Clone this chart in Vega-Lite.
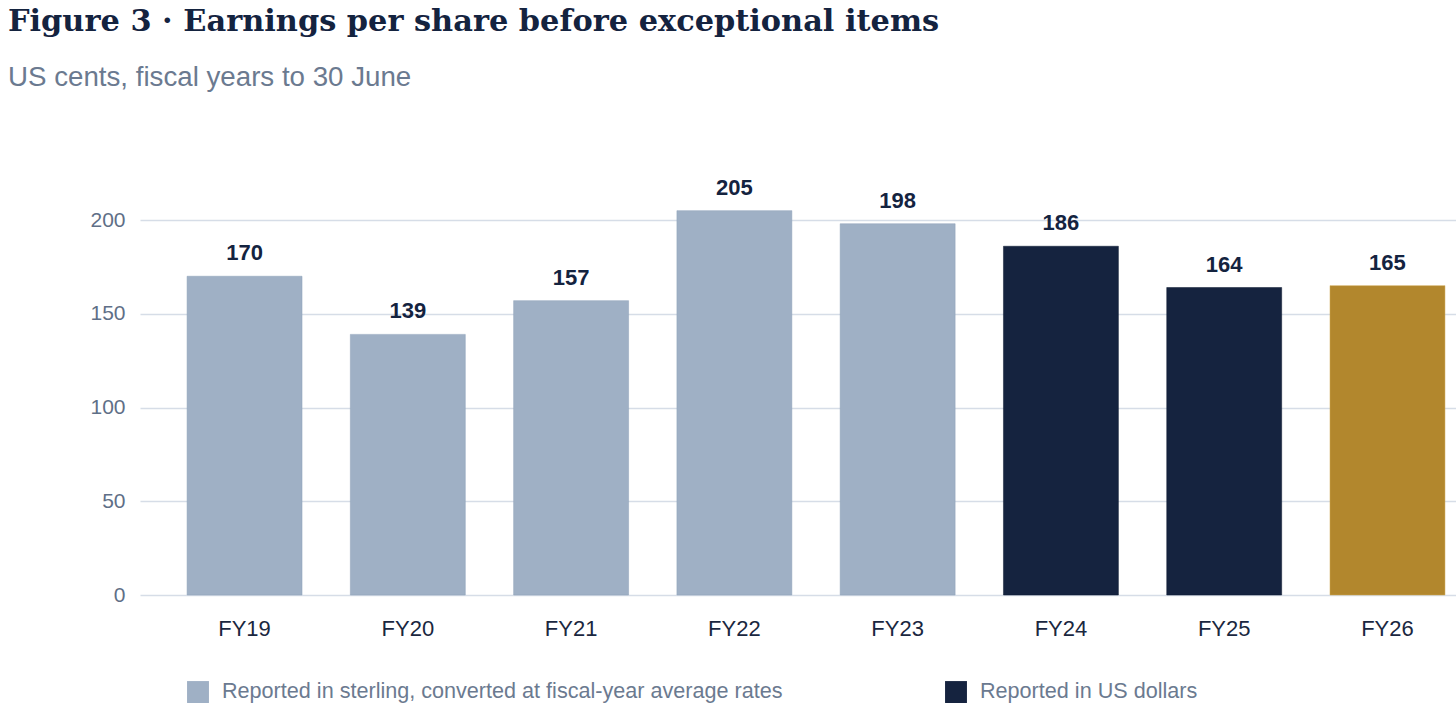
{
  "$schema": "https://vega.github.io/schema/vega-lite/v6.json",
  "width": 1316,
  "height": 375,
  "autosize": {"type": "none"},
  "padding": {"left": 140, "top": 220, "right": 0, "bottom": 114},
  "background": "white",
  "title": {
    "text": "Figure 3 · Earnings per share before exceptional items",
    "subtitle": "US cents, fiscal years to 30 June",
    "anchor": "start",
    "frame": "group",
    "dx": -132,
    "offset": 85,
    "font": "DejaVu Serif",
    "fontSize": 30.4,
    "fontWeight": "bold",
    "color": "#14233f",
    "subtitleFont": "Liberation Sans",
    "subtitleFontSize": 27.7,
    "subtitleColor": "#6b7a90",
    "subtitlePadding": 27
  },
  "data": {
    "values": [
      {"year": "FY19", "eps": 170, "basis": "Reported in sterling, converted at fiscal-year average rates"},
      {"year": "FY20", "eps": 139, "basis": "Reported in sterling, converted at fiscal-year average rates"},
      {"year": "FY21", "eps": 157, "basis": "Reported in sterling, converted at fiscal-year average rates"},
      {"year": "FY22", "eps": 205, "basis": "Reported in sterling, converted at fiscal-year average rates"},
      {"year": "FY23", "eps": 198, "basis": "Reported in sterling, converted at fiscal-year average rates"},
      {"year": "FY24", "eps": 186, "basis": "Reported in US dollars"},
      {"year": "FY25", "eps": 164, "basis": "Reported in US dollars"},
      {"year": "FY26", "eps": 165, "basis": "Latest"}
    ]
  },
  "encoding": {
    "x": {
      "field": "year",
      "type": "nominal",
      "sort": null,
      "scale": {"paddingInner": 0.296, "paddingOuter": 0.178, "align": 0.81},
      "axis": {
        "title": null,
        "labelAngle": 0,
        "labelFont": "Liberation Sans",
        "labelFontSize": 22,
        "labelColor": "#1a2740",
        "labelPadding": 23,
        "ticks": false,
        "domain": false
      }
    },
    "y": {
      "field": "eps",
      "type": "quantitative",
      "scale": {"domain": [0, 200], "nice": false},
      "axis": {
        "title": null,
        "values": [0, 50, 100, 150, 200],
        "labelFont": "Liberation Sans",
        "labelFontSize": 21,
        "labelColor": "#5f6f87",
        "labelPadding": 15,
        "ticks": false,
        "domain": false,
        "gridColor": "#d6dde7",
        "gridWidth": 1.5
      }
    }
  },
  "layer": [
    {
      "mark": {"type": "bar", "strokeWidth": 1, "strokeOpacity": 0.5},
      "encoding": {
        "color": {
          "field": "basis",
          "type": "nominal",
          "scale": {
            "domain": ["Reported in sterling, converted at fiscal-year average rates", "Reported in US dollars", "Latest"],
            "range": ["#9fb0c5", "#15233f", "#b2872d"]
          },
          "legend": {
            "title": null,
            "values": ["Reported in sterling, converted at fiscal-year average rates", "Reported in US dollars"],
            "orient": "none",
            "legendX": 47,
            "legendY": 461,
            "direction": "horizontal",
            "columnPadding": 162,
            "symbolType": "square",
            "symbolSize": 480,
            "symbolStrokeWidth": 0,
            "labelFont": "Liberation Sans",
            "labelFontSize": 21.6,
            "labelColor": "#6b7a90",
            "labelOffset": 13,
            "labelLimit": 800
          }
        },
        "stroke": {
          "field": "basis",
          "type": "nominal",
          "scale": {
            "domain": ["Reported in sterling, converted at fiscal-year average rates", "Reported in US dollars", "Latest"],
            "range": ["#8ea1ba", "#0c1830", "#d0a850"]
          },
          "legend": null
        }
      }
    },
    {
      "mark": {
        "type": "text",
        "baseline": "bottom",
        "dy": -11,
        "font": "Liberation Sans",
        "fontSize": 22,
        "fontWeight": "bold",
        "color": "#14233f"
      },
      "encoding": {
        "text": {"field": "eps", "type": "quantitative"}
      }
    }
  ],
  "config": {
    "view": {"stroke": null}
  }
}
